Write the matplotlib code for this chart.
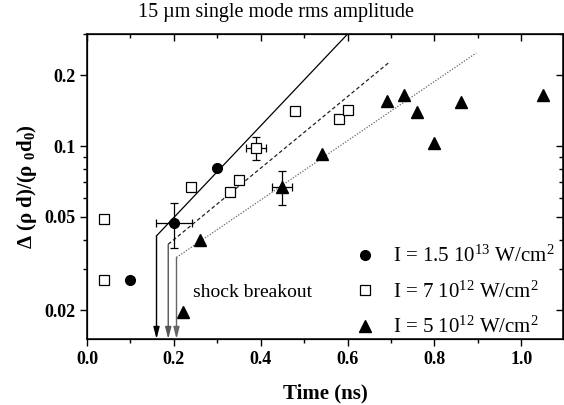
import matplotlib.pyplot as plt

plt.rcParams['font.family'] = ['Liberation Serif', 'DejaVu Serif']
plt.rcParams['mathtext.fontset'] = 'custom'
plt.rcParams['mathtext.rm'] = 'Liberation Serif'
plt.rcParams['mathtext.it'] = 'Liberation Serif:italic'
plt.rcParams['mathtext.bf'] = 'Liberation Serif:bold'

# data (time in ns, amplitude)
t_circ = [0.10, 0.20, 0.30]
a_circ = [0.027, 0.047, 0.081]

t_sq = [0.04, 0.04, 0.24, 0.33, 0.35, 0.39, 0.48, 0.58, 0.60]
a_sq = [0.049, 0.027, 0.067, 0.064, 0.072, 0.098, 0.141, 0.131, 0.142]

t_tri = [0.22, 0.26, 0.45, 0.54, 0.69, 0.73, 0.76, 0.80, 0.86, 1.05]
a_tri = [0.0196, 0.040, 0.067, 0.093, 0.155, 0.165, 0.140, 0.103, 0.154, 0.165]

# points with error bars: (t, a, t_err, a_err)
err_circ = (0.20, 0.047, 0.041, 0.010)
err_sq = (0.39, 0.098, 0.023, 0.011)
err_tri = (0.45, 0.067, 0.023, 0.011)

# exponential fits (start and end points) and shock breakout times
fit_solid_t = [0.160, 0.600]
fit_solid_a = [0.0415, 0.300]
fit_dash_t = [0.187, 0.694]
fit_dash_a = [0.0382, 0.226]
fit_dot_t = [0.206, 0.896]
fit_dot_a = [0.0336, 0.249]

labels = [r'I = 1.5 10$^{13}$ W/cm$^{2}$',
          r'I = 7 10$^{12}$ W/cm$^{2}$',
          r'I = 5 10$^{12}$ W/cm$^{2}$']

ymin, ymax = 0.0151, 0.30
xmin, xmax = 0, 1.096

fig = plt.figure(figsize=(5.64, 4.05), dpi=100)
ax = fig.add_axes([0.1543, 0.163, 0.844, 0.753])

# fit lines
ax.plot(fit_solid_t, fit_solid_a, color='k', lw=0.9, ls='-')
ax.plot(fit_dash_t, fit_dash_a, color='#222222', lw=0.9, ls=(0, (3, 2)))
ax.plot(fit_dot_t, fit_dot_a, color='#666666', lw=0.9, ls=(0, (1, 1.3)))

# arrows down to the time axis
arrow_cols = ['k', '#555555', '#666666']
for tt, aa, c in zip([fit_solid_t[0], fit_dash_t[0], fit_dot_t[0]],
                     [fit_solid_a[0], fit_dash_a[0], fit_dot_a[0]], arrow_cols):
    ax.annotate('', xy=(tt, ymin), xytext=(tt, aa),
                arrowprops=dict(arrowstyle='-|>,head_width=0.18,head_length=0.7',
                                color=c, lw=1.0, shrinkA=0, shrinkB=0))

# error bars
for (tx, ay, tex, aey) in [err_circ, err_sq, err_tri]:
    ax.errorbar(tx, ay, xerr=tex, yerr=aey, fmt='none', ecolor='k',
                elinewidth=0.9, capsize=3, capthick=0.9)

h1, = ax.plot(t_circ, a_circ, 'o', color='k', ms=7, ls='none')
h2, = ax.plot(t_sq, a_sq, 's', mfc='white', mec='k', mew=0.9, ms=6.5, ls='none')
h3, = ax.plot(t_tri, a_tri, '^', color='k', ms=8, ls='none')

ax.text(0.244, 0.0237, 'shock breakout', fontsize=14, va='center', ha='left')

ax.set_yscale('log')
ax.set_xlim(xmin, xmax)
ax.set_ylim(ymin, ymax)
xmaj = [0.0, 0.2, 0.4, 0.6, 0.8, 1.0]
xmin_t = [0.1, 0.3, 0.5, 0.7, 0.9]
ymaj = [0.02, 0.05, 0.1, 0.2]
ymin_t = [0.03, 0.04, 0.06, 0.07, 0.08, 0.09, 0.3]
ax.set_xticks(xmaj)
ax.set_xticks(xmin_t, minor=True)
ax.set_xticklabels(['0.0', '0.2', '0.4', '0.6', '0.8', '1.0'], fontweight='bold', fontsize=13)
ax.set_yticks(ymaj)
ax.set_yticklabels(['0.02', '0.05', '0.1', '0.2'], fontweight='bold', fontsize=13)
ax.set_yticks(ymin_t, minor=True)
ax.yaxis.set_minor_formatter(plt.NullFormatter())
ax.tick_params(which='both', direction='out', width=1)
ax.tick_params(which='major', length=5)
ax.tick_params(which='minor', length=3)
for sp in ax.spines.values():
    sp.set_linewidth(1.1)

# mirrored ticks on top and right, pointing inward
axt = ax.twiny()
axt.set_xlim(xmin, xmax)
axt.set_xticks(xmaj)
axt.set_xticks(xmin_t, minor=True)
axt.tick_params(which='both', direction='in', width=1, labeltop=False)
axt.tick_params(which='major', length=5)
axt.tick_params(which='minor', length=3)
axr = ax.twinx()
axr.set_yscale('log')
axr.set_ylim(ymin, ymax)
axr.set_yticks(ymaj)
axr.set_yticks(ymin_t, minor=True)
axr.tick_params(which='both', direction='in', width=1, labelright=False)
axr.tick_params(which='major', length=5)
axr.tick_params(which='minor', length=3)

ax.set_xlabel('Time (ns)', fontsize=15, fontweight='bold', labelpad=11)
ax.set_ylabel(r'Δ (ρ d)/(ρ $_{\mathbf{0}}$d$_{\mathbf{0}}$)', fontsize=15,
              fontweight='bold', labelpad=4)
fig.text(0.49, 0.97, '15 µm single mode rms amplitude', fontsize=14.5,
         ha='center', va='center')

ax.legend([h1, h2, h3], labels, loc='upper left', bbox_to_anchor=(0.563, 0.305),
          frameon=False, fontsize=15, handlelength=1.0, handletextpad=0.8,
          borderpad=0, borderaxespad=0, labelspacing=0.68)

fig.savefig('out.png', dpi=100)
